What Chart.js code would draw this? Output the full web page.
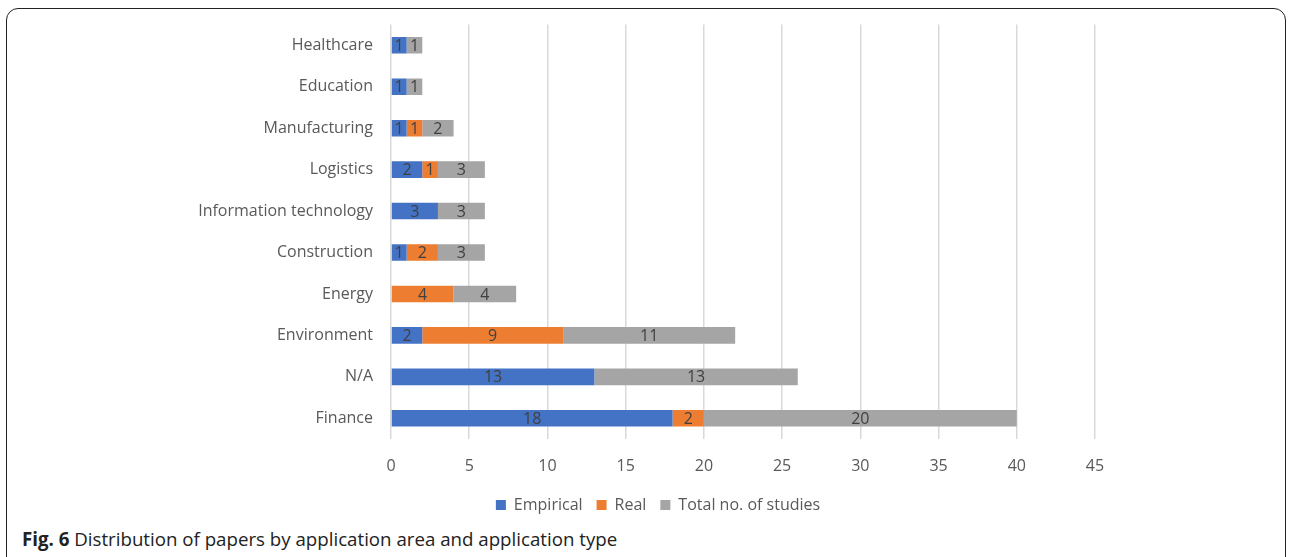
<!DOCTYPE html>
<html>
<head>
<meta charset="utf-8">
<script src="https://cdn.jsdelivr.net/npm/chart.js@4/dist/chart.umd.min.js"></script>
<style>
  html, body { margin: 0; padding: 0; background: #fff; width: 1290px; height: 557px; overflow: hidden; }
  #frame { position: absolute; left: 6px; top: 8px; width: 1278px; height: 580px; border: 1.5px solid #222; border-radius: 12px; }
  #wrap { position: absolute; left: 0; top: -3px; width: 1290px; height: 528px; }
  #caption { position: absolute; left: 22px; top: 526px; font-family: "Open Sans", sans-serif; font-size: 18.7px; color: #222; white-space: nowrap; }
  #caption b { font-weight: 700; }
</style>
</head>
<body>
<div id="frame"></div>
<div id="wrap"><canvas id="c"></canvas></div>
<div id="caption"><b>Fig. 6</b> Distribution of papers by application area and application type</div>
<script>
const categories = ["Healthcare", "Education", "Manufacturing", "Logistics", "Information technology", "Construction", "Energy", "Environment", "N/A", "Finance"];
const empirical = [1, 1, 1, 2, 3, 1, null, 2, 13, 18];
const real = [null, null, 1, 1, null, 2, 4, 9, null, 2];
const totalStudies = [1, 1, 2, 3, 3, 3, 4, 11, 13, 20];
const xTicks = [0, 5, 10, 15, 20, 25, 30, 35, 40, 45];

const FONT = '"Open Sans", "Noto Sans", sans-serif';

const labelPlugin = {
  id: 'segLabels',
  afterDatasetsDraw(chart) {
    const ctx = chart.ctx;
    ctx.save();
    ctx.font = '16px ' + FONT;
    ctx.fillStyle = '#404040';
    ctx.textAlign = 'center';
    ctx.textBaseline = 'middle';
    chart.data.datasets.forEach((ds, di) => {
      const meta = chart.getDatasetMeta(di);
      meta.data.forEach((el, i) => {
        const v = ds.data[i];
        if (v === null || v === undefined) return;
        const p = el.getProps(['x', 'y', 'base'], true);
        ctx.fillText(String(v), (p.x + p.base) / 2, p.y + 1);
      });
    });
    ctx.restore();
  }
};

new Chart(document.getElementById('c'), {
  type: 'bar',
  data: {
    labels: categories,
    datasets: [
      { label: 'Empirical', data: empirical, backgroundColor: '#4472C4' },
      { label: 'Real', data: real, backgroundColor: '#ED7D31' },
      { label: 'Total no. of studies', data: totalStudies, backgroundColor: '#A5A5A5' }
    ]
  },
  options: {
    indexAxis: 'y',
    responsive: true,
    maintainAspectRatio: false,
    animation: false,
    datasets: { bar: { barPercentage: 0.4, categoryPercentage: 1.0 } },
    layout: { padding: { top: 19, right: 0, bottom: 2, left: 26 } },
    plugins: {
      legend: {
        position: 'bottom',
        labels: { font: { family: FONT, size: 16 }, color: '#595959', boxWidth: 10, boxHeight: 10, padding: 14 }
      },
      tooltip: { enabled: false }
    },
    scales: {
      x: {
        stacked: true,
        min: 0, max: 45,
        afterBuildTicks(scale) { scale.ticks = xTicks.map(v => ({ value: v })); },
        grid: { color: '#d9d9d9', lineWidth: 1.5, drawTicks: false },
        border: { display: false },
        ticks: { font: { family: FONT, size: 16 }, color: '#595959', padding: 18 },
        afterFit(scale) { scale.height = 44; }
      },
      y: {
        stacked: true,
        grid: { display: false, drawTicks: false },
        border: { display: false },
        ticks: { font: { family: FONT, size: 16 }, color: '#595959', padding: 18 },
        afterFit(scale) { scale.width = 365; }
      },
      yRightSpace: {
        type: 'linear',
        axis: 'y',
        position: 'right',
        grid: { display: false, drawTicks: false },
        border: { display: false },
        ticks: { display: false },
        afterFit(scale) { scale.width = 195; }
      }
    }
  },
  plugins: [labelPlugin]
});
</script>
</body>
</html>
